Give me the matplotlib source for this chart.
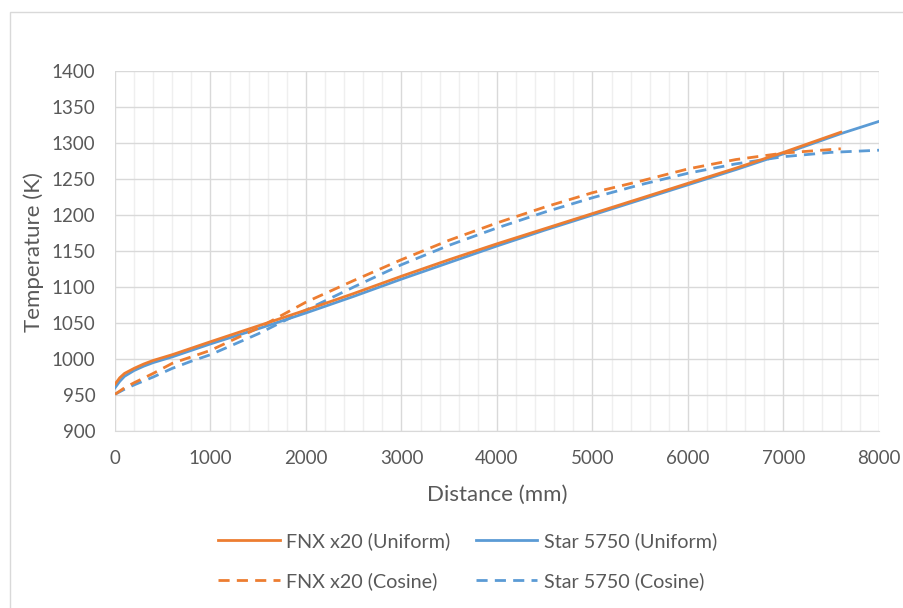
import matplotlib
matplotlib.use("Agg")
import matplotlib.pyplot as plt
from matplotlib.patches import Rectangle
from matplotlib.ticker import MultipleLocator

# ---- data ----
fnx_u_x = [0, 50, 100, 200, 300, 400, 600, 800, 1000, 1500, 2000, 2500, 3000, 3500,
           4000, 4500, 5000, 5500, 6000, 6500, 7000, 7600]
fnx_u_y = [965, 974, 980, 987, 993, 998, 1006, 1015, 1024, 1046, 1068, 1091, 1115, 1138,
           1160, 1181, 1202, 1223, 1244, 1265, 1287, 1315]

star_u_x = [0, 50, 100, 200, 300, 400, 600, 800, 1000, 1500, 2000, 2500, 3000, 3500,
            4000, 4500, 5000, 5500, 6000, 6500, 7000, 7600, 8000]
star_u_y = [960, 969, 976, 984, 990, 995, 1003, 1012, 1021, 1042, 1064, 1087, 1111, 1134,
            1157, 1179, 1200, 1221, 1242, 1263, 1285, 1313, 1330]

fnx_c_x = [0, 100, 200, 400, 600, 800, 1000, 1500, 2000, 2500, 3000, 3500, 4000, 4500,
           5000, 5500, 6000, 6500, 7000, 7600]
fnx_c_y = [951, 960, 967, 980, 994, 1003, 1012, 1043, 1079, 1109, 1138, 1165, 1189, 1211,
           1231, 1247, 1264, 1277, 1286, 1292]

star_c_x = [0, 100, 200, 400, 600, 800, 1000, 1500, 2000, 2500, 3000, 3500, 4000, 4500,
            5000, 5500, 6000, 6500, 7000, 7500, 8000]
star_c_y = [951, 958, 964, 975, 987, 997, 1006, 1035, 1068, 1100, 1131, 1158, 1182, 1204,
            1224, 1242, 1258, 1271, 1281, 1287, 1290]

labels = ["FNX x20 (Uniform)", "Star 5750 (Uniform)", "FNX x20 (Cosine)", "Star 5750 (Cosine)"]
x_label = "Distance (mm)"
y_label = "Temperature (K)"

# ---- styling ----
ORANGE = "#ED7D31"
BLUE = "#5B9BD5"
TXT = "#595959"
plt.rcParams["font.family"] = ["Lato", "DejaVu Sans"]

W, H = 904, 608
fig = plt.figure(figsize=(W / 100, H / 100), dpi=100)
fig.patch.set_facecolor("white")

# chart frame
fig.patches.append(Rectangle((10 / W, -0.05), 1.1, (H - 12) / H + 0.05,
                             transform=fig.transFigure, fill=False,
                             edgecolor="#D9D9D9", linewidth=1.0))

L, R, T, B = 115, 879, 71, 431
ax = fig.add_axes([L / W, (H - B) / H, (R - L) / W, (B - T) / H])

lw = 2.0
dash = (4, 2.6)
l1, = ax.plot(fnx_u_x, fnx_u_y, color=ORANGE, lw=lw, label=labels[0], zorder=4)
l2, = ax.plot(star_u_x, star_u_y, color=BLUE, lw=lw, label=labels[1], zorder=3)
l3, = ax.plot(fnx_c_x, fnx_c_y, color=ORANGE, lw=lw, ls=(0, dash), label=labels[2], zorder=4)
l4, = ax.plot(star_c_x, star_c_y, color=BLUE, lw=lw, ls=(0, dash), label=labels[3], zorder=3)

ax.set_xlim(0, 8000)
ax.set_ylim(900, 1400)
ax.xaxis.set_major_locator(MultipleLocator(1000))
ax.xaxis.set_minor_locator(MultipleLocator(200))
ax.yaxis.set_major_locator(MultipleLocator(50))

ax.grid(True, which="major", axis="both", color="#D9D9D9", lw=1.0, zorder=0)
ax.grid(True, which="minor", axis="x", color="#EFEFEF", lw=1.0, zorder=0)
ax.set_axisbelow(True)

for s in ax.spines.values():
    s.set_visible(False)
ax.spines["bottom"].set_visible(True)
ax.spines["bottom"].set_color("#D9D9D9")

ax.tick_params(which="both", length=0, labelsize=13.5, labelcolor=TXT)
ax.tick_params(axis="x", pad=14)
ax.tick_params(axis="y", pad=14)

fig.text(34 / W, 1 - 252 / H, y_label, rotation=90, ha="center", va="center",
         fontsize=16, color=TXT)
fig.text(497 / W, 1 - 495 / H, x_label, ha="center", va="center",
         fontsize=16, color=TXT)

leg = fig.legend([l1, l3, l2, l4], [labels[0], labels[2], labels[1], labels[3]],
                 ncol=2, loc="center", bbox_to_anchor=(468 / W, 1 - 561 / H),
                 frameon=False, fontsize=14.2, handlelength=3.1, handletextpad=0.35,
                 columnspacing=1.3, labelspacing=1.1, labelcolor=TXT)

fig.savefig("out.png", dpi=100, facecolor="white")
